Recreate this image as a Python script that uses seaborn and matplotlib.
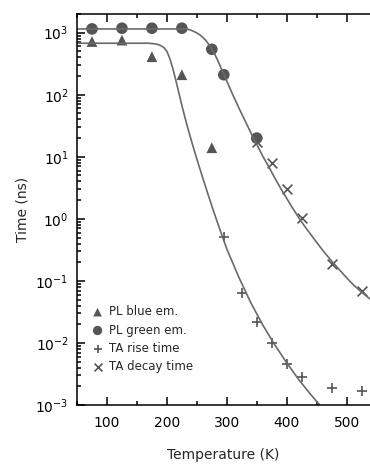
import numpy as np
import pandas as pd
import seaborn as sns
import matplotlib.pyplot as plt
from matplotlib.ticker import MultipleLocator, LogLocator, NullFormatter

# measured points
pl_blue_T = [75, 125, 175, 225, 275]
pl_blue = [720, 760, 410, 210, 14]

pl_green_T = [75, 125, 175, 225, 275, 295, 350]
pl_green = [1150, 1180, 1180, 1180, 540, 210, 20]

ta_rise_T = [295, 325, 350, 375, 400, 425, 475, 525]
ta_rise = [0.51, 0.065, 0.022, 0.0098, 0.0045, 0.0028, 0.0019, 0.0017]

ta_decay_T = [350, 375, 400, 425, 475, 525]
ta_decay = [17, 7.9, 3.0, 1.05, 0.19, 0.069]

# fit curves (log10 of time)
fit_blue_T = [50, 100, 150, 170, 180, 185, 190, 195, 200, 205, 210, 215, 220,
              225, 230, 235, 240, 245, 250, 260, 270, 280, 290, 300, 320, 340,
              360, 380, 400, 420, 440, 455]
fit_blue_log = [2.83, 2.83, 2.83, 2.83, 2.82, 2.81, 2.79, 2.76, 2.70, 2.58,
                2.42, 2.23, 2.03, 1.83, 1.64, 1.46, 1.29, 1.125, 0.965, 0.655,
                0.355, 0.065, -0.215, -0.485, -0.94, -1.35, -1.71, -2.03,
                -2.32, -2.59, -2.83, -3.00]

fit_green_T = [50, 150, 230, 235, 240, 245, 250, 255, 260, 265, 270, 275, 280,
               285, 290, 295, 300, 310, 320, 330, 340, 350, 360, 370, 380, 390,
               400, 410, 420, 430, 440, 450, 462, 475, 487, 500, 512, 525, 545]
fit_green_log = [3.06, 3.06, 3.06, 3.055, 3.04, 3.02, 2.995, 2.965, 2.925,
                 2.875, 2.81, 2.735, 2.65, 2.55, 2.44, 2.33, 2.22, 2.00, 1.79,
                 1.59, 1.39, 1.20, 1.01, 0.84, 0.66, 0.49, 0.33, 0.17, 0.02,
                 -0.12, -0.25, -0.38, -0.53, -0.68, -0.81, -0.95, -1.07, -1.18,
                 -1.34]

sns.set_theme(style="ticks")
plt.rcParams['font.family'] = ['DejaVu Sans']

fig = plt.figure(figsize=(3.70, 4.67), dpi=100)
ax = fig.add_axes([77/370, 1 - 405/467, 1 - 77/370, (405 - 14)/467])

line_col = "#6a6a6a"
mark_col = "#555555"

fits = pd.DataFrame({
    "T": fit_blue_T + fit_green_T,
    "tau": list(10 ** np.array(fit_blue_log)) + list(10 ** np.array(fit_green_log)),
    "fit": ["blue"] * len(fit_blue_T) + ["green"] * len(fit_green_T),
})
sns.lineplot(data=fits, x="T", y="tau", units="fit", estimator=None, sort=False,
             color=line_col, lw=1.2, ax=ax, legend=False)

series = [
    ("PL blue em.", pl_blue_T, pl_blue, "^", 60),
    ("PL green em.", pl_green_T, pl_green, "o", 70),
    ("TA rise time", ta_rise_T, ta_rise, "+", 55),
    ("TA decay time", ta_decay_T, ta_decay, "x", 50),
]
for name, tx, ty, m, s in series:
    if m in "+x":
        sns.scatterplot(x=tx, y=ty, marker=m, s=s, color=mark_col,
                        linewidth=1.2, label=name, ax=ax)
    else:
        sns.scatterplot(x=tx, y=ty, marker=m, s=s, color=mark_col,
                        edgecolor="none", label=name, ax=ax)

ax.set_yscale("log")
ax.set_xlim(50, 539)
ax.set_ylim(1e-3, 2e3)

ax.xaxis.set_major_locator(MultipleLocator(100))
ax.xaxis.set_minor_locator(MultipleLocator(50))
ax.yaxis.set_major_locator(LogLocator(base=10, numticks=12))
ax.yaxis.set_minor_locator(LogLocator(base=10, subs=np.arange(2, 10), numticks=12))
ax.yaxis.set_minor_formatter(NullFormatter())

ax.tick_params(which="both", direction="in", top=True, right=False,
               color="black", width=1.1)
ax.tick_params(which="major", length=6, labelsize=10, colors="black")
ax.tick_params(which="minor", length=3)
ax.tick_params(axis="x", which="major", pad=8)
ax.tick_params(axis="y", which="major", pad=6)

for side in ["left", "top", "bottom"]:
    ax.spines[side].set_linewidth(1.1)
    ax.spines[side].set_color("black")
ax.spines["right"].set_visible(False)

ax.set_xlabel("Temperature (K)", fontsize=10, labelpad=13)
ax.set_ylabel("Time (ns)", fontsize=10, labelpad=4)

ax.legend(loc="upper left", bbox_to_anchor=(0.05, 0.255), frameon=False,
          fontsize=8.5, handlelength=1.0, handletextpad=0.5, labelspacing=0.45,
          borderpad=0, borderaxespad=0, markerscale=0.8)

fig.savefig("out.png", dpi=100)
